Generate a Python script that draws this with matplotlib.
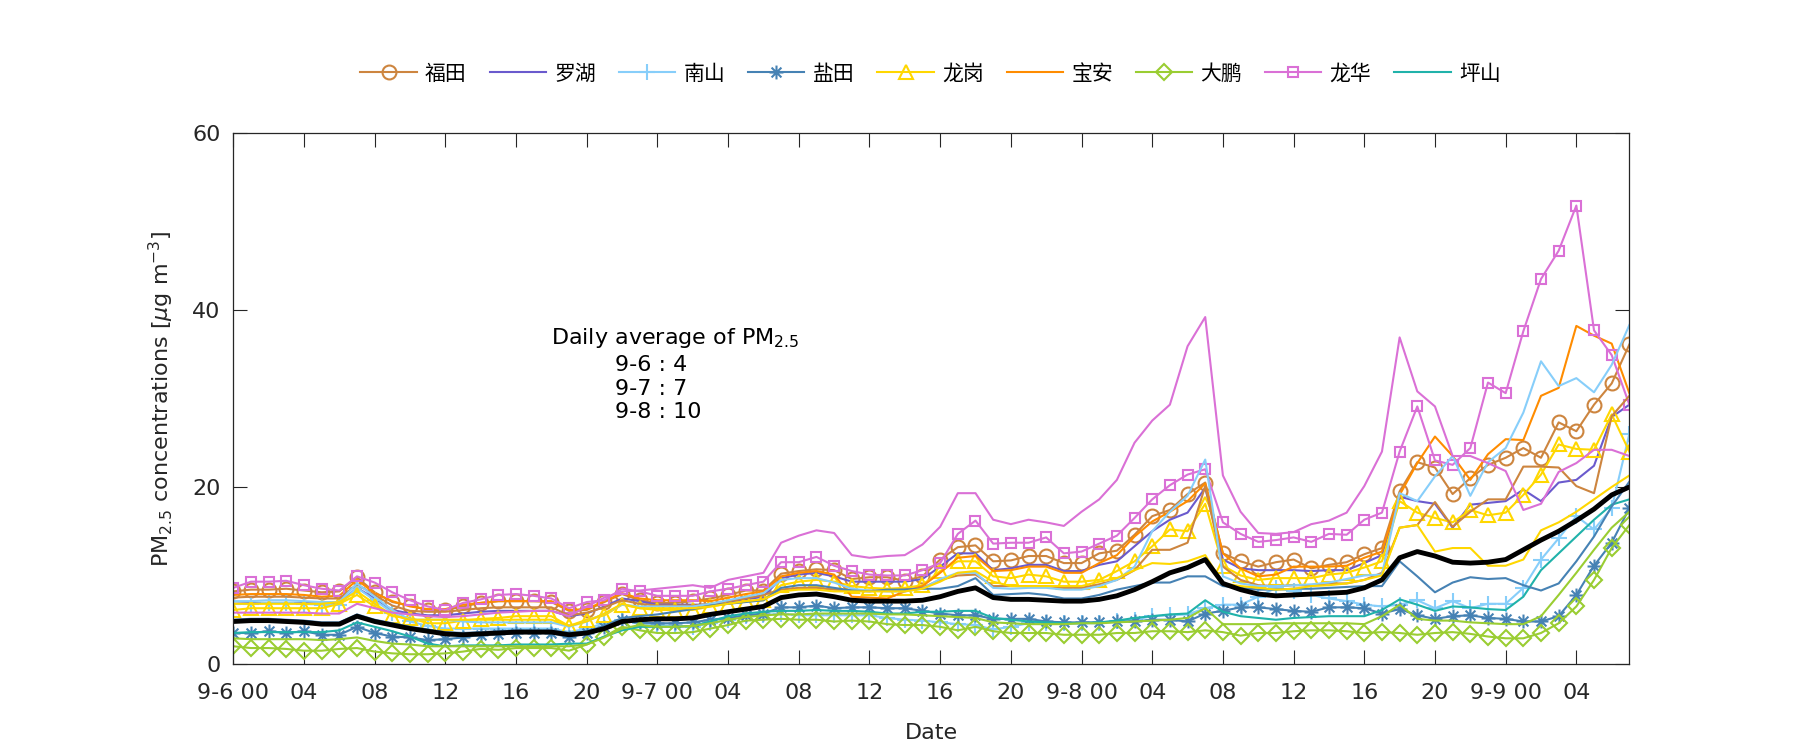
import matplotlib
matplotlib.use("Agg")
import matplotlib.pyplot as plt
from matplotlib.path import Path
import numpy as np

plt.rcParams['font.family'] = ['DejaVu Sans', 'Noto Sans CJK SC']

# hourly values, 9-6 00 .. 9-9 07
hours = np.arange(80)
xtick_pos = np.arange(0, 80, 4)
xtick_labels = ["9-6 00", "04", "08", "12", "16", "20",
                "9-7 00", "04", "08", "12", "16", "20",
                "9-8 00", "04", "08", "12", "16", "20",
                "9-9 00", "04"]

districts = ["福田", "罗湖", "南山", "盐田", "龙岗", "宝安", "大鹏", "龙华", "坪山"]

# series with markers (first group, shown in legend)
futian_m = [8.2, 8.4, 8.4, 8.5, 8.3, 8.1, 8.2, 9.8, 8.1, 7.0, 6.6, 6.1, 6.1, 6.5, 6.9, 7.1, 7.1, 7.1, 7.0, 6.0, 6.1, 7.0, 7.9, 7.2, 6.9, 6.9, 7.1,
            7.4, 7.8, 8.3, 8.3, 10.2, 10.5, 10.7, 10.6, 9.6, 9.8, 9.8, 9.4, 9.9, 11.8, 13.2, 13.4, 11.6, 11.7, 12.2, 12.2, 11.4, 11.4, 12.5, 12.8, 14.6, 16.7, 17.4,
            19.2, 20.5, 12.5, 11.6, 11.0, 11.5, 11.8, 10.8, 11.2, 11.5, 12.4, 13.1, 19.5, 22.8, 22.2, 19.2, 21.0, 22.5, 23.3, 24.4, 23.3, 27.3, 26.3, 29.3, 31.7, 36.1]
luohu = [6.8, 6.9, 6.9, 6.9, 6.9, 6.8, 6.8, 8.6, 7.4, 6.1, 5.7, 5.5, 5.5, 5.7, 5.9, 6.0, 6.0, 6.0, 6.0, 5.4, 5.7, 6.5, 7.4, 7.1, 6.7, 6.7, 6.7,
         6.7, 7.0, 7.3, 7.6, 9.7, 10.1, 10.3, 9.9, 9.3, 9.3, 9.3, 9.3, 9.6, 11.0, 12.5, 12.5, 10.6, 10.8, 11.2, 11.2, 10.5, 10.5, 11.2, 11.6, 13.3, 15.0, 16.3,
         17.1, 19.9, 11.8, 10.8, 10.6, 10.6, 10.6, 10.5, 10.6, 10.6, 11.4, 12.3, 18.9, 18.4, 18.1, 15.4, 18.0, 18.2, 18.4, 19.7, 18.4, 20.5, 20.8, 22.4, 27.9, 29.3]
nanshan_m = [6.8, 6.8, 6.9, 6.9, 6.8, 6.7, 6.7, 8.6, 7.2, 5.8, 4.8, 4.3, 4.0, 4.0, 4.0, 4.0, 4.0, 4.0, 4.0, 3.6, 4.0, 4.6, 5.0, 4.6, 4.4, 4.3, 4.2,
             4.6, 5.0, 5.4, 5.5, 5.7, 5.5, 5.5, 5.5, 5.5, 5.5, 5.2, 5.0, 4.9, 4.7, 4.5, 4.4, 3.9, 4.2, 4.6, 4.6, 4.6, 4.6, 4.6, 4.8, 5.0, 5.4, 5.5,
             5.6, 6.3, 6.7, 6.7, 7.6, 8.6, 8.2, 7.8, 7.4, 7.1, 6.7, 6.5, 6.7, 7.2, 6.3, 7.1, 6.3, 6.8, 6.8, 8.6, 11.8, 14.2, 16.7, 15.2, 17.6, 26.0]
yantian_m = [3.5, 3.5, 3.7, 3.5, 3.7, 3.3, 3.3, 4.2, 3.5, 3.1, 3.0, 2.7, 2.8, 3.0, 3.3, 3.4, 3.5, 3.5, 3.5, 3.0, 3.5, 4.2, 5.0, 4.7, 4.6, 4.6, 4.7,
             5.0, 5.2, 5.5, 5.7, 6.4, 6.4, 6.6, 6.3, 6.4, 6.4, 6.3, 6.3, 6.0, 5.7, 5.5, 5.5, 5.1, 5.1, 5.1, 4.8, 4.7, 4.7, 4.7, 4.8, 4.8, 5.0, 5.0,
             4.8, 5.7, 6.0, 6.4, 6.4, 6.2, 6.0, 5.9, 6.4, 6.4, 6.3, 5.7, 6.2, 5.5, 5.1, 5.4, 5.5, 5.2, 5.1, 4.8, 4.8, 5.4, 7.8, 11.1, 13.7, 17.6]
longgang_m = [6.1, 6.3, 6.3, 6.3, 6.3, 6.3, 6.8, 7.8, 6.5, 5.4, 5.2, 4.6, 4.6, 4.9, 5.1, 5.2, 5.4, 5.4, 5.4, 4.3, 5.0, 5.5, 6.7, 6.3, 6.1, 6.1, 6.1,
              6.5, 6.8, 7.1, 7.2, 8.9, 9.3, 9.5, 9.3, 8.8, 8.6, 8.5, 8.6, 8.9, 10.5, 11.6, 11.6, 9.9, 9.7, 10.1, 9.9, 9.3, 9.3, 9.5, 10.5, 11.6, 13.3, 15.2,
              15.0, 18.1, 11.1, 10.0, 9.5, 9.7, 9.7, 9.7, 10.1, 10.3, 10.9, 11.6, 18.4, 17.1, 16.5, 16.0, 17.4, 16.8, 17.1, 19.1, 21.4, 24.8, 24.3, 24.2, 28.2, 24.0]
baoan = [7.8, 7.9, 7.9, 7.9, 7.8, 7.6, 7.7, 9.5, 8.0, 7.1, 6.5, 6.2, 6.2, 6.7, 6.9, 7.1, 7.1, 7.1, 7.1, 6.1, 6.2, 7.1, 8.0, 7.4, 7.2, 7.2, 7.2,
         7.1, 7.5, 7.9, 8.2, 9.9, 10.3, 10.5, 10.1, 7.6, 7.5, 7.4, 8.2, 8.8, 10.3, 12.0, 12.2, 10.5, 10.6, 11.0, 11.0, 10.3, 10.3, 11.4, 12.3, 14.4, 16.1, 17.2,
         18.4, 20.4, 12.5, 10.8, 9.9, 10.1, 11.0, 11.0, 11.0, 11.1, 12.0, 12.7, 19.1, 22.7, 25.7, 23.5, 20.8, 23.7, 25.4, 25.3, 30.3, 31.2, 38.2, 37.1, 36.2, 30.6]
dapeng_m = [2.0, 1.8, 1.8, 1.7, 1.5, 1.5, 1.7, 1.8, 1.4, 1.2, 1.1, 1.1, 1.2, 1.4, 1.7, 1.6, 1.8, 1.8, 1.8, 1.5, 2.2, 3.1, 4.2, 3.8, 3.5, 3.5, 3.6,
            4.0, 4.4, 4.9, 5.0, 5.1, 5.0, 5.0, 4.8, 4.9, 4.8, 4.5, 4.4, 4.4, 4.2, 3.8, 4.2, 3.7, 3.5, 3.5, 3.5, 3.3, 3.3, 3.3, 3.5, 3.5, 3.7, 3.7,
            3.6, 3.8, 3.6, 3.2, 3.5, 3.5, 3.7, 3.8, 3.8, 3.7, 3.5, 3.6, 3.5, 3.3, 3.5, 3.6, 3.4, 3.1, 2.9, 2.9, 3.5, 4.6, 6.5, 9.5, 13.1, 15.7]
longhua_m = [8.6, 9.3, 9.3, 9.4, 8.9, 8.5, 8.3, 9.9, 9.2, 8.1, 7.2, 6.5, 6.1, 6.9, 7.3, 7.8, 7.9, 7.7, 7.4, 6.3, 7.0, 7.2, 8.5, 8.2, 7.7, 7.7, 7.7,
             8.2, 8.5, 8.9, 9.3, 11.5, 11.5, 12.1, 11.1, 10.5, 10.1, 10.0, 10.0, 10.6, 11.4, 14.7, 16.2, 13.6, 13.7, 13.7, 14.3, 12.5, 12.7, 13.6, 14.5, 16.5, 18.6, 20.2,
             21.4, 22.0, 16.0, 14.7, 13.8, 14.0, 14.3, 13.8, 14.7, 14.6, 16.3, 17.1, 24.0, 29.1, 23.0, 22.5, 24.4, 31.8, 30.6, 37.6, 43.5, 46.7, 51.8, 37.7, 34.9, 29.3]
pingshan = [3.5, 3.6, 3.6, 3.6, 3.6, 3.6, 3.8, 4.7, 4.2, 3.7, 3.1, 2.3, 2.0, 2.1, 2.1, 2.1, 2.2, 2.2, 2.2, 2.3, 2.3, 3.1, 3.8, 4.2, 4.2, 4.2, 4.3,
            4.8, 5.4, 5.7, 5.9, 6.0, 6.0, 6.1, 6.0, 6.0, 5.9, 5.7, 5.7, 5.9, 5.9, 6.0, 6.0, 5.2, 5.0, 4.8, 4.7, 4.6, 4.6, 4.7, 4.9, 5.2, 5.4, 5.6,
            5.7, 7.2, 5.9, 5.4, 5.2, 5.0, 5.2, 5.3, 5.4, 5.4, 5.4, 6.1, 7.3, 6.7, 6.0, 6.5, 6.4, 6.2, 6.1, 7.6, 10.6, 12.5, 14.4, 16.3, 18.0, 18.6]

# plain lines (second group)
futian_l = [7.5, 7.6, 7.6, 7.6, 7.5, 7.4, 7.4, 9.0, 7.8, 6.6, 6.0, 5.9, 5.9, 6.1, 6.3, 6.4, 6.4, 6.4, 6.4, 5.5, 5.8, 6.4, 7.2, 6.8, 6.6, 6.6, 6.6,
            6.8, 7.1, 7.4, 7.8, 8.4, 8.6, 8.6, 8.4, 8.3, 8.3, 8.3, 8.4, 8.6, 9.5, 10.0, 10.1, 8.8, 8.8, 8.8, 8.8, 8.6, 8.6, 9.0, 9.5, 10.6, 12.9, 12.9,
            13.7, 20.1, 11.0, 9.5, 8.9, 8.8, 8.9, 8.9, 9.1, 9.1, 9.5, 10.3, 15.4, 15.7, 18.3, 15.5, 17.2, 18.6, 18.6, 22.3, 22.3, 22.2, 20.1, 19.3, 28.0, 30.3]
nanshan_l = [7.1, 7.1, 7.2, 7.2, 7.1, 7.0, 7.0, 9.1, 7.6, 6.1, 5.0, 5.0, 5.0, 4.8, 4.7, 4.7, 4.7, 4.7, 4.7, 4.2, 4.8, 5.7, 6.7, 6.5, 6.5, 6.5, 6.5,
             6.8, 7.2, 7.6, 8.0, 9.5, 9.7, 9.7, 9.2, 8.5, 8.3, 8.2, 8.2, 8.5, 9.6, 10.3, 10.3, 8.6, 8.5, 8.6, 8.6, 8.4, 8.4, 8.8, 9.5, 11.0, 15.0, 17.2,
             19.0, 23.1, 9.9, 9.1, 8.8, 8.8, 8.9, 9.0, 9.2, 9.6, 10.0, 10.1, 19.3, 18.4, 21.2, 23.5, 19.0, 22.8, 24.4, 28.4, 34.2, 31.4, 32.3, 30.7, 33.8, 38.3]
yantian_l = [5.0, 5.1, 5.1, 5.0, 4.9, 4.7, 4.7, 5.6, 5.0, 4.6, 4.2, 3.9, 3.6, 3.5, 3.6, 3.7, 3.8, 3.8, 3.8, 3.5, 3.7, 4.3, 5.2, 5.4, 5.6, 5.9, 6.2,
             6.6, 6.8, 7.0, 7.2, 8.6, 8.9, 8.9, 8.6, 8.3, 8.2, 8.4, 8.4, 8.5, 8.5, 8.8, 9.7, 7.8, 7.9, 8.0, 7.8, 7.4, 7.4, 7.8, 8.4, 8.8, 9.2, 9.2,
             9.9, 9.9, 8.8, 8.6, 8.4, 8.4, 8.5, 8.5, 8.6, 8.7, 8.8, 8.8, 11.6, 9.9, 8.1, 9.2, 9.8, 9.6, 9.7, 8.9, 8.3, 9.1, 11.6, 14.4, 17.8, 20.6]
longgang_l = [6.8, 6.8, 6.8, 6.8, 6.8, 6.8, 7.0, 8.2, 6.8, 5.5, 5.0, 5.0, 5.0, 5.0, 5.0, 5.0, 5.0, 5.0, 5.0, 4.3, 4.8, 5.7, 6.8, 6.3, 6.3, 6.3, 6.3,
              6.5, 6.8, 7.1, 7.3, 8.2, 8.4, 8.4, 8.2, 8.2, 8.2, 8.2, 8.2, 8.5, 9.3, 10.3, 10.5, 9.3, 8.8, 8.8, 8.8, 8.8, 8.8, 9.3, 9.7, 10.6, 11.4, 11.3,
              11.6, 12.3, 9.1, 8.8, 8.6, 8.4, 8.5, 8.8, 8.9, 9.1, 9.5, 10.0, 15.4, 15.7, 12.7, 13.1, 13.1, 11.1, 11.1, 11.8, 15.1, 16.0, 17.2, 18.6, 20.0, 21.3]
dapeng_l = [2.9, 2.8, 2.8, 2.8, 2.8, 2.7, 2.8, 3.0, 2.6, 2.3, 2.2, 2.0, 2.0, 2.0, 2.0, 2.0, 2.0, 2.0, 2.0, 2.0, 2.2, 3.0, 4.0, 4.4, 4.2, 4.2, 4.3,
            4.6, 5.0, 5.3, 5.5, 5.6, 5.6, 5.7, 5.7, 5.7, 5.7, 5.6, 5.6, 5.5, 5.4, 5.3, 5.2, 4.7, 4.6, 4.5, 4.5, 4.5, 4.6, 4.6, 4.7, 4.8, 4.9, 5.0,
            5.2, 6.3, 4.5, 4.5, 4.5, 4.6, 4.6, 4.6, 4.6, 4.6, 4.5, 5.4, 6.7, 5.1, 4.9, 4.9, 4.7, 4.6, 4.5, 4.5, 5.4, 7.8, 10.3, 12.9, 15.4, 17.2]
longhua_l = [5.8, 5.8, 5.8, 5.8, 5.8, 5.7, 5.7, 6.8, 6.3, 5.8, 5.6, 5.4, 5.3, 5.4, 5.6, 5.8, 5.9, 6.0, 6.0, 5.4, 6.5, 7.5, 8.2, 8.3, 8.5, 8.7, 8.9,
             8.6, 9.5, 9.9, 10.3, 13.7, 14.5, 15.1, 14.8, 12.3, 12.0, 12.2, 12.3, 13.5, 15.5, 19.3, 19.3, 16.3, 15.8, 16.3, 16.0, 15.6, 17.2, 18.6, 20.8, 25.0, 27.5, 29.3,
             35.9, 39.2, 21.3, 17.2, 14.8, 14.7, 14.9, 15.8, 16.2, 17.1, 20.1, 24.0, 36.9, 30.8, 29.1, 23.5, 23.5, 22.7, 21.8, 17.4, 18.1, 21.7, 22.7, 24.2, 24.2, 23.5]

# city mean
mean_all = [4.8, 4.9, 4.9, 4.8, 4.7, 4.5, 4.5, 5.4, 4.8, 4.4, 4.0, 3.7, 3.4, 3.3, 3.4, 3.5, 3.6, 3.6, 3.6, 3.3, 3.5, 4.0, 4.8, 5.0, 5.1, 5.1, 5.2,
            5.6, 5.9, 6.2, 6.5, 7.5, 7.8, 7.9, 7.6, 7.2, 7.1, 7.1, 7.1, 7.2, 7.6, 8.2, 8.6, 7.5, 7.3, 7.3, 7.2, 7.1, 7.1, 7.3, 7.7, 8.4, 9.3, 10.3,
            10.9, 11.8, 9.1, 8.4, 7.9, 7.7, 7.8, 7.9, 8.0, 8.1, 8.6, 9.5, 12.0, 12.7, 12.2, 11.5, 11.4, 11.5, 11.8, 12.9, 14.0, 15.0, 16.2, 17.5, 19.1, 20.0]

# asterisk marker like matlab's '*': a '+' and an 'x' drawn together
d = 0.7071
asterisk = Path([(-1, 0), (1, 0), (0, -1), (0, 1), (-d, -d), (d, d), (-d, d), (d, -d)],
                [Path.MOVETO, Path.LINETO] * 4)

colors = ['#CD853F', '#6A5ACD', '#87CEFA', '#4682B4', '#FFD700',
          '#FF8C00', '#9ACD32', '#DA70D6', '#20B2AA']
markers = ['o', 'None', '+', asterisk, '^', 'None', 'D', 's', 'None']
msizes = [10, 0, 11, 10, 10, 0, 8.2, 7.5, 0]
group1 = [futian_m, luohu, nanshan_m, yantian_m, longgang_m, baoan, dapeng_m, longhua_m, pingshan]

fig = plt.figure(figsize=(18, 7.5), dpi=100)
ax = fig.add_axes([0.1296, 0.1147, 0.7756, 0.7080])

handles = []
for vals, c, m, ms, name in zip(group1, colors, markers, msizes, districts):
    h, = ax.plot(hours, vals, color=c, lw=1.5, marker=m, ms=ms,
                 mfc='none', mec=c, mew=1.5, label=name)
    handles.append(h)

# second group: plain lines in the same colours
for vals, c in [(futian_l, colors[0]), (nanshan_l, colors[2]), (yantian_l, colors[3]),
                (longgang_l, colors[4]), (dapeng_l, colors[6]), (longhua_l, colors[7])]:
    ax.plot(hours, vals, color=c, lw=1.5)

ax.plot(hours, mean_all, color='black', lw=3.5)

ax.set_xlim(0, 79)
ax.set_ylim(0, 60)
ax.set_xticks(xtick_pos)
ax.set_xticklabels(xtick_labels)
ax.set_yticks([0, 20, 40, 60])
ax.tick_params(direction='in', length=10, width=0.8, top=True, right=True,
               labelsize=16, colors='#262626')
ax.tick_params(axis='x', pad=14)
ax.tick_params(axis='y', pad=9)
for s in ax.spines.values():
    s.set_color('#262626')
    s.set_linewidth(0.9)

ax.set_xlabel('Date', fontsize=16, color='#262626', labelpad=14)
ax.set_ylabel(r'PM$_{2.5}$ concentrations [$\mu$g m$^{-3}$]', fontsize=16,
              color='#262626', labelpad=12)

ax.text(18.0, 36.8, r'Daily average of PM$_{2.5}$', fontsize=16, va='center')
ax.text(21.6, 33.8, '9-6 : 4', fontsize=16, va='center')
ax.text(21.6, 31.1, '9-7 : 7', fontsize=16, va='center')
ax.text(21.6, 28.5, '9-8 : 10', fontsize=16, va='center')

fig.legend(handles=handles, loc='center', bbox_to_anchor=(0.517, 0.902),
           ncol=9, frameon=False, handlelength=2.7, handletextpad=0.4,
           columnspacing=1.1, prop={'family': ['Noto Sans CJK SC'], 'size': 15})

fig.savefig('out.png', dpi=100)
